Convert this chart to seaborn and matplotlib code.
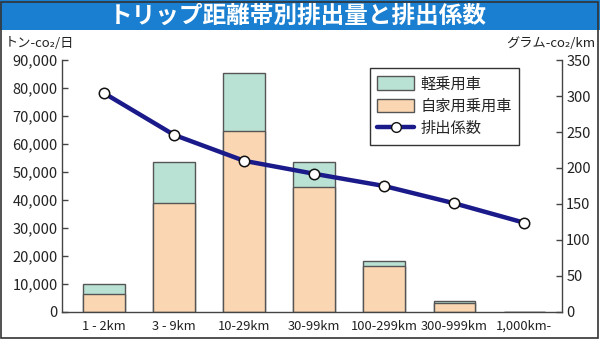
import matplotlib
matplotlib.use("Agg")
import matplotlib.pyplot as plt
import matplotlib.ticker as mticker
from matplotlib.patches import Rectangle
import seaborn as sns
import pandas as pd

categories = ["1 - 2km", "3 - 9km", "10-29km", "30-99km", "100-299km", "300-999km", "1,000km-"]
kei = [3600, 14600, 20600, 8900, 1700, 700, 0]           # 軽乗用車
jikayou = [6400, 38800, 64800, 44500, 16400, 3100, 0]    # 自家用乗用車
factor = [304, 246, 210, 192, 175, 151, 124]             # 排出係数

total = [a + b for a, b in zip(kei, jikayou)]
df = pd.DataFrame({"cat": categories, "kei": kei, "jika": jikayou,
                   "total": total, "factor": factor})

sns.set_theme(style="white")
plt.rcParams["font.family"] = ["Noto Sans CJK JP", "DejaVu Sans"]

fig = plt.figure(figsize=(6, 3.4), dpi=100)
ax = fig.add_axes([0.1033, 0.0824, 0.8334, 0.7411])

teal = "#b9e2d5"
peach = "#fbd6b2"
edge = "#555555"

sns.barplot(data=df, x="cat", y="total", color=teal, edgecolor=edge,
            linewidth=1.0, width=0.59, saturation=1, ax=ax)
sns.barplot(data=df, x="cat", y="jika", color=peach, edgecolor=edge,
            linewidth=1.0, width=0.59, saturation=1, ax=ax)

ax.set_xlim(-0.6, 6.54)
ax.set_ylim(0, 90000)
ax.set_yticks(range(0, 90001, 10000))
ax.yaxis.set_major_formatter(mticker.FuncFormatter(lambda v, p: f"{int(v):,}"))
ax.set_xlabel("")
ax.set_ylabel("")

ax2 = ax.twinx()
sns.lineplot(data=df, x="cat", y="factor", sort=False, color="#1b1a8a",
             linewidth=3.2, marker="o", markersize=7.5, markerfacecolor="white",
             markeredgecolor="#111111", markeredgewidth=1.1, ax=ax2)
ax2.set_xlim(-0.6, 6.54)
ax2.set_ylim(0, 350)
ax2.set_yticks(range(0, 351, 50))
ax2.set_ylabel("")
ax2.set_xlabel("")

for a in (ax, ax2):
    a.spines["top"].set_visible(False)
    for s in ("left", "right", "bottom"):
        a.spines[s].set_color("#444444")
        a.spines[s].set_linewidth(1.0)
    a.tick_params(axis="y", direction="in", length=4, width=1.0, color="#444444",
                  labelsize=10.5, labelcolor="#222222", pad=3)
    a.tick_params(axis="x", length=0, labelsize=9.3, labelcolor="#222222", pad=13)
ax.spines["right"].set_visible(False)
ax2.spines["left"].set_visible(False)
ax2.spines["bottom"].set_visible(False)
ax.yaxis.tick_left()
ax2.yaxis.tick_right()
for lab in ax.get_xticklabels():
    lab.set_verticalalignment("baseline")

handles = [
    Rectangle((0, 0), 1, 1, facecolor=teal, edgecolor=edge, linewidth=1.0),
    Rectangle((0, 0), 1, 1, facecolor=peach, edgecolor=edge, linewidth=1.0),
    plt.Line2D([], [], color="#1b1a8a", linewidth=3.2, marker="o", markersize=7,
               markerfacecolor="white", markeredgecolor="#111111"),
]
leg = ax2.legend(handles, ["軽乗用車", "自家用乗用車", "排出係数"],
                 loc="upper right", bbox_to_anchor=(0.93, 1.0), fontsize=11,
                 frameon=True, fancybox=False, framealpha=1, edgecolor="#333333",
                 handlelength=2.4, handleheight=1.0, labelspacing=0.35,
                 borderpad=0.5, handletextpad=0.4)
leg.get_frame().set_linewidth(1.0)

fig.text(0.008, 0.872, "トン-co₂/日", fontsize=9.5, color="#222222", ha="left", va="center")
fig.text(0.993, 0.872, "グラム-co₂/km", fontsize=9.5, color="#222222", ha="right", va="center")

# title banner
fig.patches.append(Rectangle((0, 0.912), 1, 0.088, transform=fig.transFigure,
                             facecolor="#1a7fd0", edgecolor="none", zorder=0))
fig.text(0.497, 0.955, "トリップ距離帯別排出量と排出係数", fontsize=17, fontweight="bold",
         color="white", ha="center", va="center")
fig.patches.append(Rectangle((0.002, 0.006), 0.994, 0.988, transform=fig.transFigure,
                             facecolor="none", edgecolor="#333333", linewidth=1.2, zorder=5))

fig.savefig("out.png", dpi=100)
